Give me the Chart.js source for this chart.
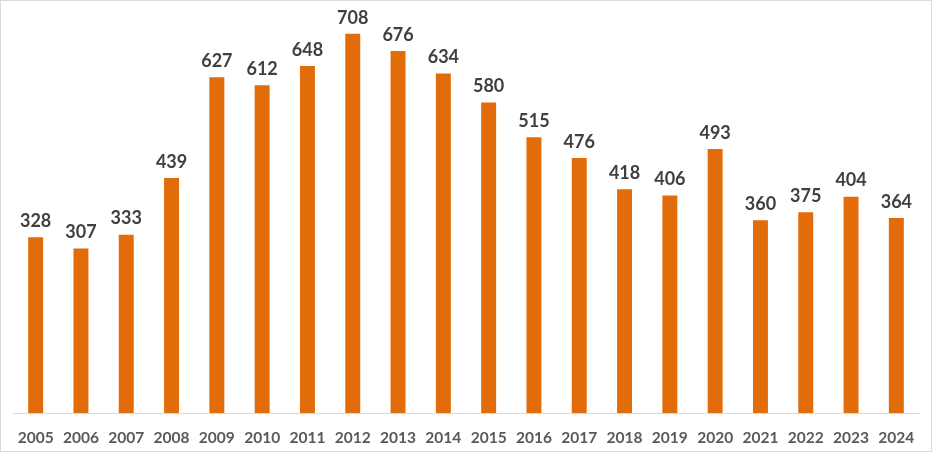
<!DOCTYPE html>
<html>
<head>
<meta charset="utf-8">
<script src="https://cdn.jsdelivr.net/npm/chart.js@4"></script>
<style>
  html, body { margin: 0; padding: 0; background: #fff; }
  #wrap { position: relative; width: 932px; height: 452px; box-sizing: border-box; border: 1px solid #d9d9d9; }
  canvas { display: block; }
</style>
</head>
<body>
<div id="wrap"><canvas id="chart" width="930" height="450"></canvas></div>
<script>
const years = ['2005', '2006', '2007', '2008', '2009', '2010', '2011', '2012', '2013', '2014',
  '2015', '2016', '2017', '2018', '2019', '2020', '2021', '2022', '2023', '2024'];
const counts = [328, 307, 333, 439, 627, 612, 648, 708, 676, 634,
  580, 515, 476, 418, 406, 493, 360, 375, 404, 364];

const barColor = '#e36c0a';
const textColor = '#404040';

// value labels above each bar
const valueLabels = {
  id: 'valueLabels',
  afterDatasetsDraw(chart) {
    const ctx = chart.ctx;
    const meta = chart.getDatasetMeta(0);
    ctx.save();
    ctx.font = 'bold 18px Lato, "Open Sans", sans-serif';
    ctx.fillStyle = textColor;
    ctx.textAlign = 'center';
    ctx.textBaseline = 'bottom';
    meta.data.forEach((bar, i) => {
      ctx.fillText(String(counts[i]), bar.x, bar.y - 7);
    });
    ctx.restore();
  }
};

new Chart(document.getElementById('chart'), {
  type: 'bar',
  data: {
    labels: years,
    datasets: [{
      data: counts,
      backgroundColor: barColor,
      borderWidth: 0,
      categoryPercentage: 1,
      barPercentage: 0.33,
    }],
  },
  options: {
    responsive: false,
    animation: false,
    layout: { padding: { left: 12, right: 12, top: 5, bottom: 0 } },
    plugins: { legend: { display: false }, tooltip: { enabled: false } },
    scales: {
      x: {
        grid: { display: false, drawTicks: false },
        border: { display: true, color: '#d9d9d9', width: 1 },
        ticks: { color: '#595959', font: { family: 'Lato, "Open Sans", sans-serif', size: 15.5, weight: 'bold' }, padding: 16, maxRotation: 0 },
        afterFit(scale) { scale.height = 38; },
      },
      y: {
        display: false,
        min: 0,
        max: 760,
      },
    },
  },
  plugins: [valueLabels],
});
</script>
</body>
</html>
